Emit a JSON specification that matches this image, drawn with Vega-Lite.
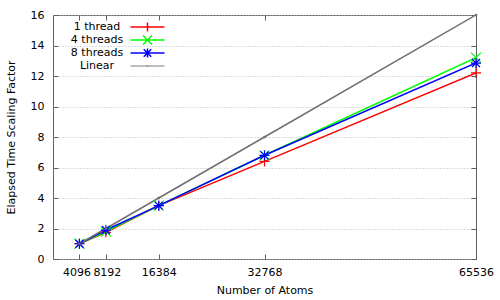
{
  "$schema": "https://vega.github.io/schema/vega-lite/v6.json",
  "width": 423,
  "height": 244,
  "autosize": "none",
  "padding": {"left": 53, "top": 15, "right": 24, "bottom": 41},
  "config": {
    "font": "DejaVu Sans",
    "view": {"stroke": "#606060", "strokeWidth": 1},
    "axis": {
      "labelFont": "DejaVu Sans", "labelFontSize": 11, "labelColor": "#000",
      "titleFont": "DejaVu Sans", "titleFontSize": 11, "titleFontWeight": "normal", "titleColor": "#000",
      "domain": false, "tickColor": "#606060", "tickSize": -5, "labelFlush": false, "labelOverlap": false
    }
  },
  "data": {
    "values": [
      {"series": "1 thread", "atoms": 4096, "factor": 1.0},
      {"series": "1 thread", "atoms": 8192, "factor": 1.75},
      {"series": "1 thread", "atoms": 16384, "factor": 3.5},
      {"series": "1 thread", "atoms": 32768, "factor": 6.4},
      {"series": "1 thread", "atoms": 65536, "factor": 12.2},
      {"series": "4 threads", "atoms": 4096, "factor": 1.0},
      {"series": "4 threads", "atoms": 8192, "factor": 1.8},
      {"series": "4 threads", "atoms": 16384, "factor": 3.5},
      {"series": "4 threads", "atoms": 32768, "factor": 6.8},
      {"series": "4 threads", "atoms": 65536, "factor": 13.2},
      {"series": "8 threads", "atoms": 4096, "factor": 1.0},
      {"series": "8 threads", "atoms": 8192, "factor": 1.9},
      {"series": "8 threads", "atoms": 16384, "factor": 3.5},
      {"series": "8 threads", "atoms": 32768, "factor": 6.8},
      {"series": "8 threads", "atoms": 65536, "factor": 12.85},
      {"series": "Linear", "atoms": 4096, "factor": 1},
      {"series": "Linear", "atoms": 8192, "factor": 2},
      {"series": "Linear", "atoms": 16384, "factor": 4},
      {"series": "Linear", "atoms": 32768, "factor": 8},
      {"series": "Linear", "atoms": 65536, "factor": 16}
    ]
  },
  "resolve": {
    "scale": {"shape": "independent"},
    "axis": {"x": "independent", "y": "independent"}
  },
  "layer": [
    {
      "mark": {"type": "line", "clip": true},
      "encoding": {
        "x": {
          "field": "atoms", "type": "quantitative",
          "scale": {"domain": [0, 65536], "nice": false, "zero": false},
          "axis": {"orient": "bottom", "values": [4096, 8192, 16384, 32768, 65536], "format": "d", "grid": false, "title": "Number of Atoms", "labelPadding": 12, "titlePadding": 7,
            "labelOffset": {"condition": [{"test": "datum.value === 4096", "value": -3}, {"test": "datum.value === 8192", "value": 1}], "value": 0}}
        },
        "y": {
          "field": "factor", "type": "quantitative",
          "scale": {"domain": [0, 16], "nice": false},
          "axis": {"orient": "left", "values": [0, 2, 4, 6, 8, 10, 12, 14, 16], "grid": true, "gridDash": [1, 2], "gridColor": "#bbbbbb", "title": "Elapsed Time Scaling Factor", "labelPadding": 14, "titlePadding": 14}
        },
        "color": {
          "field": "series", "type": "nominal",
          "scale": {"domain": ["1 thread", "4 threads", "8 threads", "Linear"], "range": ["#ff0000", "#00ff00", "#0000ff", "#707070"]},
          "legend": null
        },
        "strokeWidth": {
          "field": "series", "type": "nominal",
          "scale": {"domain": ["1 thread", "4 threads", "8 threads", "Linear"], "range": [1.5, 1.5, 1.5, 0.9]},
          "legend": null
        }
      }
    },
    {
      "mark": {"type": "point", "filled": false, "size": 100, "strokeWidth": 1.2, "opacity": 1},
      "encoding": {
        "x": {
          "field": "atoms", "type": "quantitative",
          "axis": {"orient": "top", "values": [4096, 8192, 16384, 32768, 65536], "grid": false, "labels": false, "title": null}
        },
        "y": {
          "field": "factor", "type": "quantitative",
          "axis": {"orient": "right", "values": [0, 2, 4, 6, 8, 10, 12, 14, 16], "grid": false, "labels": false, "title": null}
        },
        "color": {"field": "series", "type": "nominal", "legend": null},
        "shape": {
          "field": "series", "type": "nominal",
          "scale": {"domain": ["1 thread", "4 threads", "8 threads", "Linear"], "range": ["M-1,0L1,0M0,-1L0,1", "M-1,-1L1,1M-1,1L1,-1", "M-1,0L1,0M0,-1L0,1M-0.8,-0.8L0.8,0.8M-0.8,0.8L0.8,-0.8", "M-0.12,-0.12L0.12,-0.12L0.12,0.12L-0.12,0.12Z"]},
          "legend": null
        }
      }
    },
    {
      "mark": {"type": "point", "filled": false, "opacity": 0},
      "encoding": {
        "x": {"field": "atoms", "type": "quantitative", "axis": null},
        "y": {"field": "factor", "type": "quantitative", "axis": null},
        "shape": {
          "field": "series", "type": "nominal",
          "scale": {"domain": ["1 thread", "4 threads", "8 threads", "Linear"], "range": ["M-3.4,0L3.4,0M0,-0.9L0,0.9", "M-3.4,0L3.4,0M-0.9,-0.9L0.9,0.9M-0.9,0.9L0.9,-0.9", "M-3.4,0L3.4,0M0,-0.9L0,0.9M-0.75,-0.75L0.75,0.75M-0.75,0.75L0.75,-0.75", "M-3.4,0L3.4,0M-0.15,-0.15L0.15,0.15"]},
          "legend": {
            "orient": "none", "legendX": 89, "legendY": 6.5, "title": null,
            "symbolSize": 100, "labelOffset": -56, "labelAlign": "center",
            "labelFont": "DejaVu Sans", "labelFontSize": 11, "labelColor": "#000",
            "symbolOpacity": 1, "rowPadding": -3, "padding": 0,
            "symbolStrokeColor": {"expr": "scale('color', datum.value)"},
            "symbolStrokeWidth": {"expr": "datum.value === 'Linear' ? 0.9 : 1.5"}
          }
        }
      }
    }
  ]
}
